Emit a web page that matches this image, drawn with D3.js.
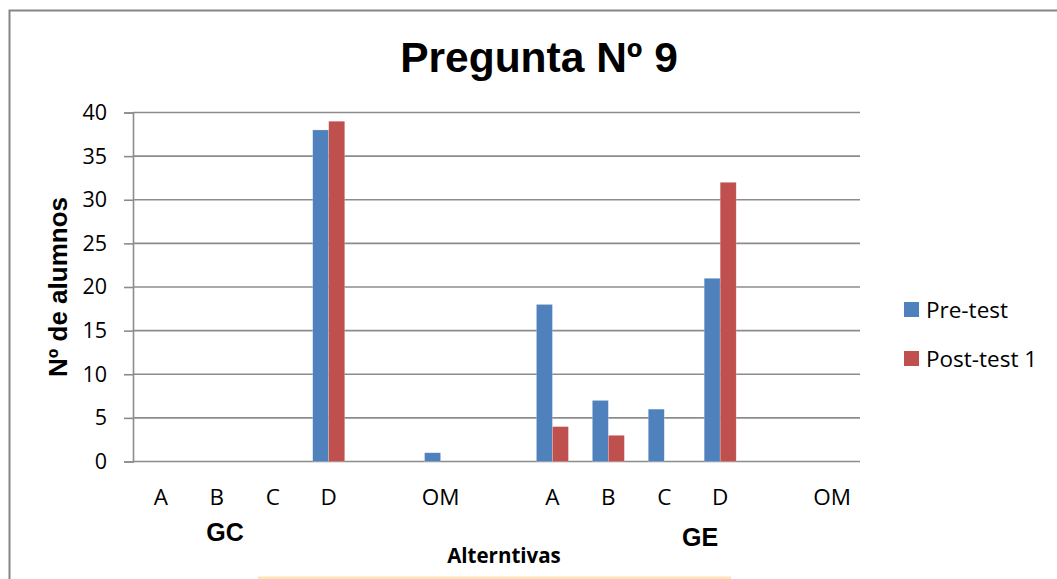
<!DOCTYPE html>
<html>
<head>
<meta charset="utf-8">
<script src="https://cdn.jsdelivr.net/npm/d3@7"></script>
<style>
  html, body { margin: 0; padding: 0; background: #fff; }
  svg { display: block; }
</style>
</head>
<body>
<svg id="chart" width="1057" height="579"></svg>
<script>
// Answer options per group; empty slots keep the gaps between answer blocks
const categories = ["A", "B", "C", "D", "_g1", "OM", "_g2", "A", "B", "C", "D", "_g3", "OM"];
const categoryKeys = categories.map((c, i) => i);
const preTest   = [0, 0, 0, 38, null, 1, null, 18, 7, 6, 21, null, 0];
const postTest1 = [0, 0, 0, 39, null, 0, null, 4, 3, 0, 32, null, 0];
const seriesNames = ["Pre-test", "Post-test 1"];
const seriesColors = ["#4f81bd", "#c0504d"];
const yTicks = [0, 5, 10, 15, 20, 25, 30, 35, 40];
const groupLabels = [{ text: "GC", at: 1.145, y: 541 }, { text: "GE", at: 9.64, y: 546 }];

const svg = d3.select("#chart");
const W = 1057, H = 579;
const m = { left: 133, right: 860, top: 112.5, bottom: 461.5 };
const bodyFont = "'Open Sans', Lato, sans-serif";
const headFont = "'Liberation Sans', Arial, sans-serif";

// Frame of the chart area
svg.append("path")
  .attr("d", `M9.5,${H + 5} L9.5,10.5 L${W + 5},10.5`)
  .attr("fill", "none").attr("stroke", "#868686").attr("stroke-width", 2);

const x = d3.scaleBand().domain(categoryKeys).range([m.left, m.right]).paddingInner(0).paddingOuter(0);
const inner = d3.scaleBand().domain([0, 1]).range([0, 32]);
const y = d3.scaleLinear().domain([0, 40]).range([m.bottom, m.top]);

// Horizontal gridlines
svg.append("g").selectAll("line").data(yTicks).join("line")
  .attr("x1", m.left).attr("x2", m.right)
  .attr("y1", d => y(d)).attr("y2", d => y(d))
  .attr("stroke", "#8c8c8c").attr("stroke-width", 1.6);

// Y axis
const yAxis = svg.append("g").attr("transform", `translate(${m.left},0)`)
  .call(d3.axisLeft(y).tickValues(yTicks).tickSize(9).tickPadding(17));
yAxis.select(".domain").attr("stroke", "#8c8c8c").attr("stroke-width", 1.6);
yAxis.selectAll(".tick line").attr("stroke", "#8c8c8c").attr("stroke-width", 1.6);
yAxis.selectAll(".tick text")
  .attr("font-family", bodyFont)
  .attr("font-size", 21.5).attr("fill", "#000");

// Bars
const series = [preTest, postTest1];
series.forEach((vals, si) => {
  svg.append("g").selectAll("rect")
    .data(vals.map((v, i) => ({ v, i })).filter(d => d.v !== null && d.v > 0))
    .join("rect")
    .attr("x", d => x(d.i) + x.bandwidth() / 2 - 16 + inner(si))
    .attr("width", inner.bandwidth())
    .attr("y", d => y(d.v))
    .attr("height", d => y(0) - y(d.v))
    .attr("fill", seriesColors[si])
    .attr("stroke", "rgba(255,255,255,0.35)").attr("stroke-width", 0.6);
});

// Category labels
svg.append("g").selectAll("text")
  .data(categories.map((c, i) => ({ c, i })).filter(d => !d.c.startsWith("_")))
  .join("text")
  .attr("x", d => x(d.i) + x.bandwidth() / 2)
  .attr("y", 505)
  .attr("text-anchor", "middle")
  .attr("font-family", bodyFont)
  .attr("font-size", 22.5)
  .text(d => d.c);

// Group labels
svg.append("g").selectAll("text").data(groupLabels).join("text")
  .attr("x", d => x(0) + x.bandwidth() * (d.at + 0.5))
  .attr("y", d => d.y)
  .attr("text-anchor", "middle")
  .attr("font-family", headFont)
  .attr("font-weight", "bold").attr("font-size", 25)
  .text(d => d.text);

// Axis titles
svg.append("text")
  .attr("x", 504).attr("y", 563)
  .attr("text-anchor", "middle")
  .attr("font-family", bodyFont)
  .attr("font-weight", "bold").attr("font-size", 20.5)
  .text("Alterntivas");

svg.append("text")
  .attr("transform", "translate(67,287) rotate(-90)")
  .attr("text-anchor", "middle")
  .attr("font-family", headFont)
  .attr("font-weight", "bold").attr("font-size", 26)
  .text("Nº de alumnos");

// Title
svg.append("text")
  .attr("x", 539).attr("y", 72)
  .attr("text-anchor", "middle")
  .attr("font-family", headFont)
  .attr("font-weight", "bold").attr("font-size", 42.5)
  .text("Pregunta Nº 9");

// Legend
const legend = svg.append("g").selectAll("g").data(seriesNames).join("g")
  .attr("transform", (d, i) => `translate(904,${302 + i * 49})`);
legend.append("rect").attr("width", 15).attr("height", 15)
  .attr("fill", (d, i) => seriesColors[i]);
legend.append("text")
  .attr("x", 22).attr("y", 15.5)
  .attr("font-family", bodyFont)
  .attr("font-size", 22.5)
  .text(d => d);

// Highlight strip along the bottom edge
svg.append("rect").attr("x", 258).attr("y", 576.5).attr("width", 473).attr("height", 3)
  .attr("fill", "#fde4b4");
</script>
</body>
</html>
